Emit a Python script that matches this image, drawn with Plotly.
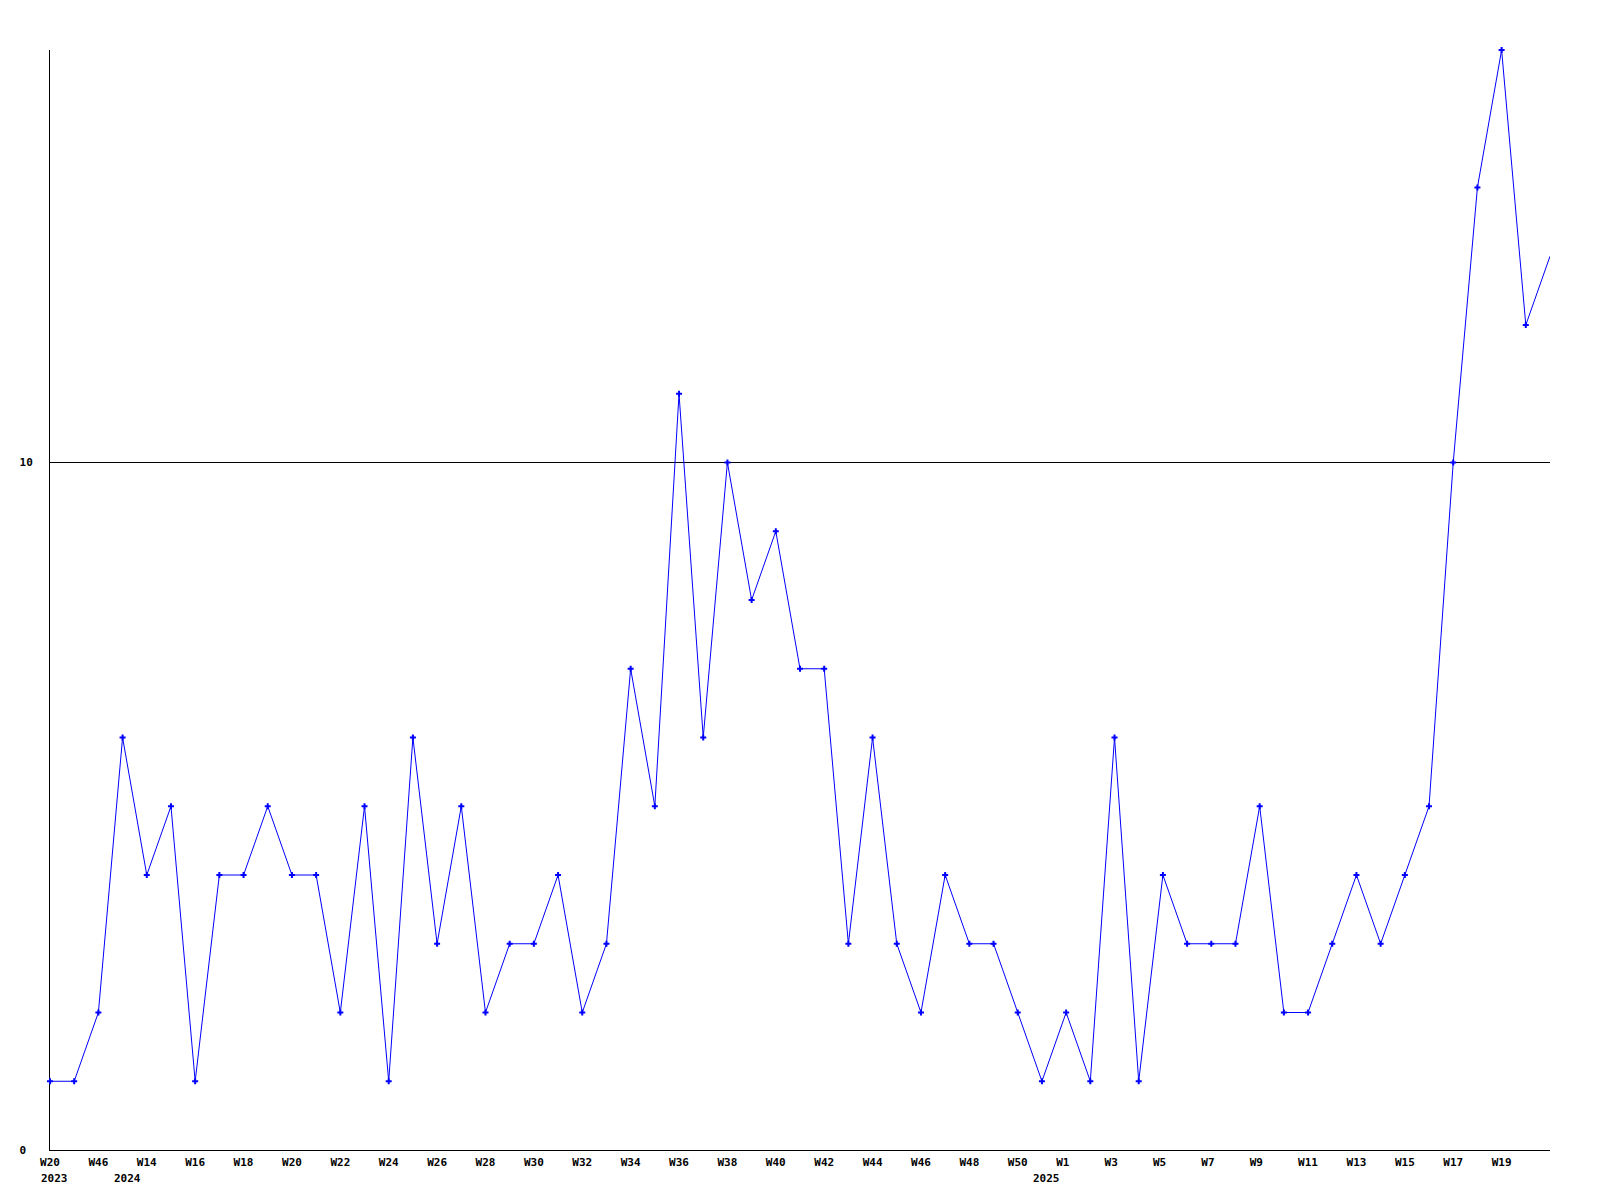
import plotly.graph_objects as go

values = [1, 1, 2, 6, 4, 5, 1, 4, 4, 5, 4, 4, 2, 5, 1, 6, 3, 5, 2, 3, 3, 4, 2, 3,
          7, 5, 11, 6, 10, 8, 9, 7, 7, 3, 6, 3, 2, 4, 3, 3, 2, 1, 2, 1, 6, 1, 4, 3,
          3, 3, 5, 2, 2, 3, 4, 3, 4, 5, 10, 14, 16, 12, 13]
x_idx = list(range(len(values)))

week_labels = ["W20", "W46", "W14", "W16", "W18", "W20", "W22", "W24", "W26", "W28",
               "W30", "W32", "W34", "W36", "W38", "W40", "W42", "W44", "W46", "W48",
               "W50", "W1", "W3", "W5", "W7", "W9", "W11", "W13", "W15", "W17", "W19"]
week_label_idx = list(range(0, 62, 2))

year_labels = ["2023", "2024", "2025"]
year_label_idx = [0, 3, 41]

y_ticks = [0, 10]
y_tick_labels = ["0", "10"]

FONT = "DejaVu Sans Mono"

def pad(s, n):
    return s + "\u00a0" * (n - len(s))

fig = go.Figure()
fig.add_trace(go.Scatter(
    x=x_idx, y=values, mode="lines",
    line=dict(color="#0000ff", width=1),
    hoverinfo="skip", showlegend=False,
))
fig.add_trace(go.Scatter(
    x=x_idx[:-1], y=values[:-1], mode="markers",
    marker=dict(color="#0000ff", size=5, symbol="cross", line=dict(width=0)),
    cliponaxis=False, showlegend=False,
))

for yl, xi in zip(year_labels, year_label_idx):
    fig.add_annotation(
        x=xi, y=0, xref="x", yref="paper", text=yl, showarrow=False,
        xanchor="left", yanchor="top", xshift=-11, yshift=-20,
        font=dict(family=FONT, size=11, color="black", weight="bold"),
    )

fig.update_layout(
    width=1600, height=1200,
    margin=dict(l=42, r=58, t=42, b=58),
    paper_bgcolor="white", plot_bgcolor="white",
    showlegend=False,
    xaxis=dict(
        range=[0, len(values) - 1],
        tickvals=week_label_idx,
        ticktext=[pad(w, 3) for w in week_labels],
        showgrid=False, zeroline=False,
        showline=True, linecolor="black", linewidth=1,
        layer="below traces",
        ticks="", ticklabelstandoff=2,
        tickfont=dict(family=FONT, size=11, color="black", weight="bold"),
    ),
    yaxis=dict(
        range=[0, 16],
        tickvals=y_ticks,
        ticktext=[pad(t, 2) for t in y_tick_labels],
        showgrid=True, gridcolor="black", gridwidth=1,
        zeroline=False,
        showline=True, linecolor="black", linewidth=1,
        layer="below traces",
        ticks="", ticklabelstandoff=14,
        tickfont=dict(family=FONT, size=11, color="black", weight="bold"),
    ),
)

fig.write_html("out.html")
